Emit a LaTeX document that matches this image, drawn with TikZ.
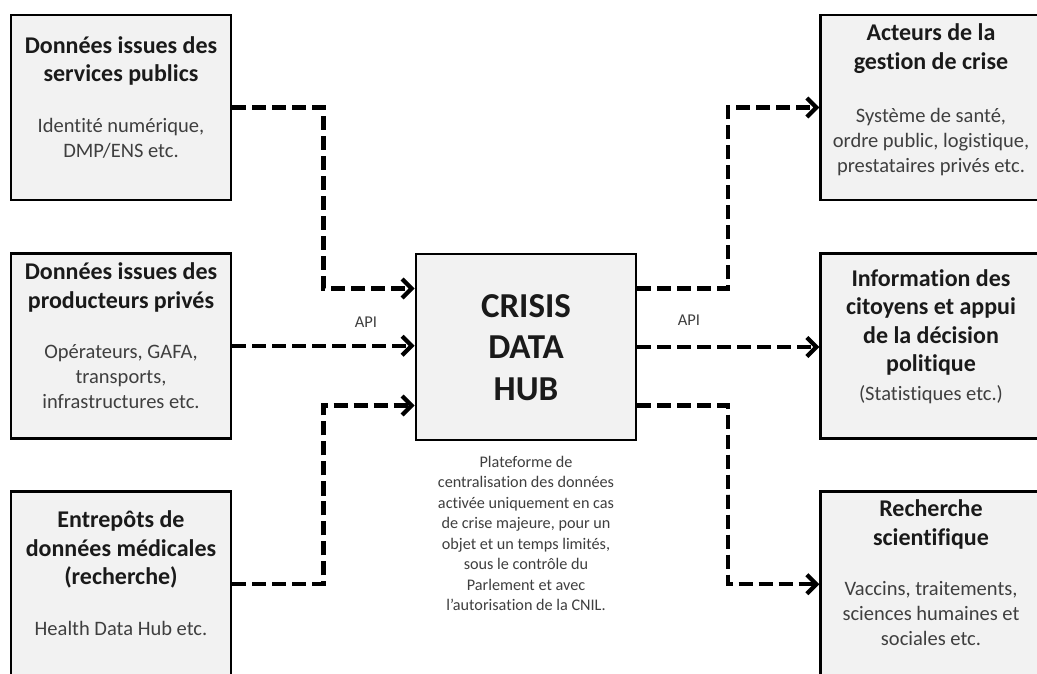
\documentclass[tikz,border=0pt]{standalone}
\usepackage{fontspec}
\setmainfont{Carlito}[Ligatures={NoCommon}]
\usetikzlibrary{arrows.meta,calc}
\definecolor{boxfill}{HTML}{F2F2F2}
\definecolor{txtgrey}{HTML}{3F3F3F}
\definecolor{ttlcol}{HTML}{1A1A1A}
\begin{document}
\begin{tikzpicture}[x=1pt,y=-1pt,
  box/.style={draw=black, line width=2.8pt, fill=boxfill, minimum width=220pt, minimum height=185pt, inner sep=0pt},
  ttl/.style={align=center, text=ttlcol, inner sep=0pt, font=\fontsize{24}{28.5}\selectfont\bfseries},
  bdy/.style={align=center, text=txtgrey, inner sep=0pt, font=\fontsize{20.5}{25}\selectfont},
  hubt/.style={align=center, text=ttlcol, inner sep=0pt, font=\fontsize{35}{41.5}\selectfont\bfseries},
  desc/.style={align=center, text=txtgrey, inner sep=0pt, font=\fontsize{16.2}{20.5}\selectfont},
  api/.style={text=txtgrey, inner sep=0pt, font=\fontsize{16.5}{18}\selectfont},
  conn/.style={line width=4.2pt, dash pattern=on 14pt off 6pt, -{Straight Barb[length=9.5pt,width=19pt]}}]
\useasboundingbox (0,0) rectangle (1037,674);
\clip (0,0) rectangle (1037,674);
\fill[white] (0,0) rectangle (1037,674);

% boxes
\node[box] (b1) at (121,107.5) {};
\node[box] (b2) at (121,345.8) {};
\node[box] (b3) at (121,584.2) {};
\node[box, minimum height=186pt] (hub) at (526,347) {};
\node[box] (rA) at (930.7,107.5) {};
\node[box] (rB) at (930.7,345.8) {};
\node[box] (rC) at (930.7,584.2) {};

% texts
\node[ttl] (b1t) at (121,61) {Données issues des\\services publics};
\node[bdy] (b1b) at (121,138) {Identité numérique,\\DMP/ENS etc.};
\node[ttl] (b2t) at (121,287.5) {Données issues des\\producteurs privés};
\node[bdy] (b2b) at (121,376.5) {Opérateurs, GAFA,\\transports,\\infrastructures etc.};
\node[ttl] (b3t) at (121,549.5) {Entrepôts de\\données médicales\\(recherche)};
\node[bdy] (b3b) at (121,628.5) {Health Data Hub etc.};
\node[hubt] (hubtxt) at (526,347.5) {CRISIS\\DATA\\HUB};
\node[desc] (desc) at (526,533.5) {Plateforme de\\centralisation des données\\activée uniquement en cas\\de crise majeure, pour un\\objet et un temps limités,\\sous le contrôle du\\Parlement et avec\\l’autorisation de la CNIL.};
\node[ttl] (rAt) at (931,48.5) {Acteurs de la\\gestion de crise};
\node[bdy] (rAb) at (931,142.5) {Système de santé,\\ordre public, logistique,\\prestataires privés etc.};
\node[ttl] (rBt) at (931,322.5) {Information des\\citoyens et appui\\de la décision\\politique};
\node[bdy] (rBb) at (931,394.5) {(Statistiques etc.)};
\node[ttl] (rCt) at (931,524.5) {Recherche\\scientifique};
\node[bdy] (rCb) at (931,613.5) {Vaccins, traitements,\\sciences humaines et\\sociales etc.};
\node[api] (apiL) at (366,322) {API};
\node[api] (apiR) at (689,320) {API};

% connector end points on the hub
\coordinate (hinA) at ($(hub.west)+(0,-58.5)$);
\coordinate (hinC) at ($(hub.west)+(0,58.5)$);
\coordinate (houtA) at ($(hub.east)+(0,-58.5)$);
\coordinate (houtC) at ($(hub.east)+(0,58.5)$);

% left connectors
\draw[conn] (b1.east) -| ($(b1.east)!0.5!(hinA)$) |- (hinA);
\draw[conn] (b2.east) -- (b2.east -| hub.west);
\draw[conn] (b3.east) -| ($(b3.east)!0.5!(hinC)$) |- (hinC);

% right connectors
\draw[conn] (houtA) -| ($(houtA)!0.5!(rA.west)$) |- (rA.west);
\draw[conn] (hub.east) -- (hub.east -| rB.west);
\draw[conn] (houtC) -| ($(houtC)!0.5!(rC.west)$) |- (rC.west);
\end{tikzpicture}
\end{document}
